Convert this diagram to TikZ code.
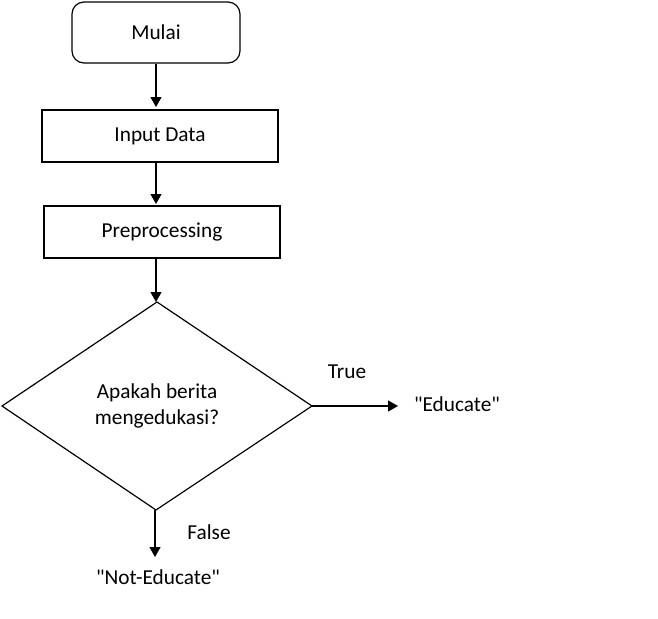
\documentclass[tikz,border=0pt]{standalone}
\usepackage{fontspec}
\setmainfont{Carlito}[Ligatures=TeXOff]
\usetikzlibrary{arrows.meta,shapes.geometric}
\begin{document}
\begin{tikzpicture}[x=1pt,y=-1pt,
  every node/.style={font=\fontsize{21.3}{26}\selectfont},
  box/.style={draw,line width=1.2pt,rectangle,inner sep=0pt},
  lbl/.style={inner sep=0pt},
  arr/.style={line width=1.2pt,-{Triangle[length=10pt,width=11pt]}}]
\useasboundingbox (0,0) rectangle (658,618);
\node[box,rounded corners=12pt,minimum width=168pt,minimum height=61pt] (mulai) at (156,32.5) {Mulai};
\node[box,minimum width=236pt,minimum height=52pt] (input) at (160,136) {Input Data};
\node[box,minimum width=236pt,minimum height=52pt] (prep) at (162,232) {Preprocessing};
\coordinate (dt) at (157,302);
\coordinate (dl) at (2,406);
\coordinate (dr) at (312,406);
\coordinate (db) at (156,510);
\draw[line width=1.2pt,line join=miter] (dt) -- (dr) -- (db) -- (dl) -- cycle;
\node[lbl,align=center] (q) at (157,406) {Apakah berita\\mengedukasi?};
\node[lbl] (edu) at (457,404) {"Educate"};
\node[lbl] (not) at (158,577) {"Not-Educate"};
\node[lbl] (true) at (347,372) {True};
\node[lbl] (false) at (209,532) {False};
\coordinate (et) at (398,406);
\coordinate (nt) at (155,557);
\draw[arr] (mulai.south) -- (156,107);
\draw[arr] (input.south -| 156,0) -- (156,204);
\draw[arr] (prep.south -| 156,0) -- (dt -| 156,0);
\draw[arr] (dr) -- (et);
\draw[arr] (155,510) -- (nt);
\end{tikzpicture}
\end{document}
